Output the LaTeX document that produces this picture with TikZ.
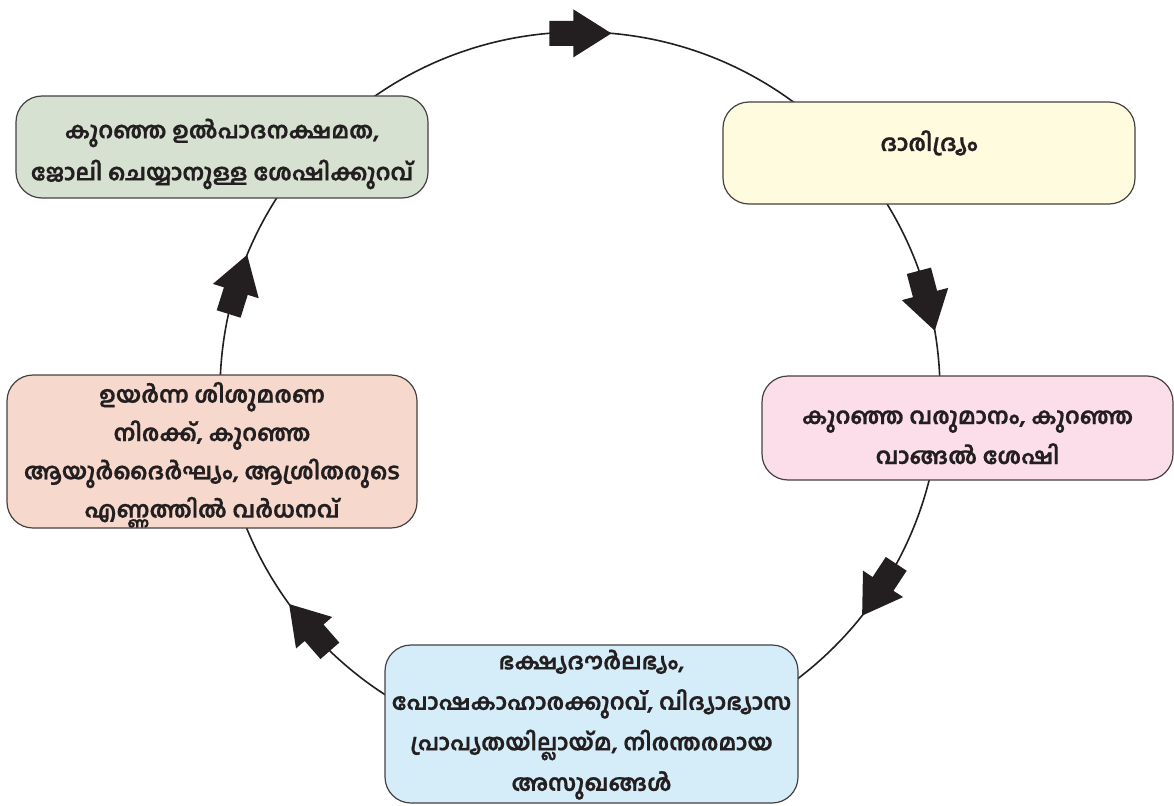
\documentclass[tikz,border=0pt]{standalone}
\usepackage{fontspec}
\newfontfamily\mal[Script=Malayalam, BoldFeatures={FakeBold=0.6}]{Hind Kochi}
\definecolor{boxgreen}{RGB}{214,225,209}
\definecolor{boxyellow}{RGB}{255,251,222}
\definecolor{boxpink}{RGB}{251,222,234}
\definecolor{boxsalmon}{RGB}{246,217,204}
\definecolor{boxblue}{RGB}{213,236,249}
\definecolor{ink}{RGB}{35,31,32}
\newcommand{\mltext}[2]{{\mal\bfseries\fontsize{22.8}{#1}\selectfont\begin{tabular}{@{}c@{}}#2\end{tabular}}}
\newcommand{\cyclearrow}[1]{%
  \begin{scope}[shift={(580,-392)}, rotate=#1]
    \begin{scope}[shift={(360,0)}, rotate=-85]
      \fill[arrowfill] (0,0) -- (-38,24) -- (-38,12.5) -- (-62,12.5) -- (-62,-12.5) -- (-38,-12.5) -- (-38,-24) -- cycle;
    \end{scope}
  \end{scope}}
\begin{document}
\begin{tikzpicture}[x=1pt,y=1pt,
  ringline/.style={draw=ink, line width=1.6pt, circle, minimum size=720pt, inner sep=0pt},
  arrowfill/.style={fill=ink},
  cyclebox/.style={draw=ink!85, line width=1.2pt, rounded corners=26pt, inner sep=0pt},
  boxtext/.style={text=ink, inner sep=0pt}]
\useasboundingbox (0,0) rectangle (1174,-805);
\node[ringline] (ring) at (580,-392) {};
\cyclearrow{85}
\cyclearrow{9.8}
\cyclearrow{-38.4}
\cyclearrow{216.1}
\cyclearrow{157.6}
\node[cyclebox, fill=boxgreen, minimum width=412pt, minimum height=102pt] (work) at (222,-147) {};
\node[boxtext] (worktext) at ([yshift=-4pt]work.center)
  {\mltext{42}{കുറഞ്ഞ ഉൽപാദനക്ഷമത,\\ജോലി ചെയ്യാനുള്ള ശേഷിക്കുറവ്}};
\node[cyclebox, fill=boxyellow, minimum width=412pt, minimum height=102pt] (poverty) at (929,-153) {};
\node[boxtext] (povertytext) at ([yshift=10pt]poverty.center) {\mltext{40}{ദാരിദ്ര്യം}};
\node[cyclebox, fill=boxpink, minimum width=411pt, minimum height=104pt] (income) at (967.5,-428) {};
\node[boxtext] (incometext) at ([yshift=-8pt]income.center)
  {\mltext{40}{കുറഞ്ഞ വരുമാനം, കുറഞ്ഞ\\വാങ്ങൽ ശേഷി}};
\node[cyclebox, fill=boxsalmon, minimum width=410pt, minimum height=153pt] (health) at (212,-451.5) {};
\node[boxtext] (healthtext) at ([yshift=-1pt]health.center)
  {\mltext{38.3}{ഉയർന്ന ശിശുമരണ\\നിരക്ക്, കുറഞ്ഞ\\ആയുർദൈർഘ്യം, ആശ്രിതരുടെ\\എണ്ണത്തിൽ വർധനവ്}};
\node[cyclebox, fill=boxblue, minimum width=413pt, minimum height=158pt] (food) at (591.5,-724) {};
\node[boxtext] (foodtext) at ([yshift=2pt]food.center)
  {\mltext{40.5}{ഭക്ഷ്യദൗർലഭ്യം,\\പോഷകാഹാരക്കുറവ്, വിദ്യാഭ്യാസ\\പ്രാപ്യതയില്ലായ്മ, നിരന്തരമായ\\അസുഖങ്ങൾ}};
\end{tikzpicture}
\end{document}
